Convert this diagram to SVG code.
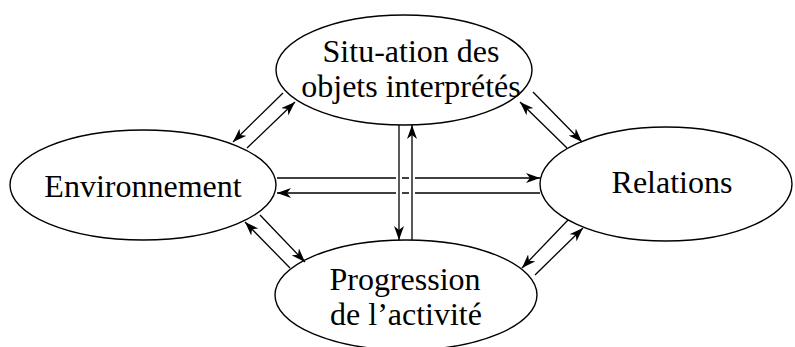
<svg xmlns="http://www.w3.org/2000/svg" width="795" height="347" viewBox="0 0 795 347">
  <style>
    ellipse.shape { fill: #fff; stroke: #000; stroke-width: 1.4; }
    text.label { font-family: "Liberation Serif", "Times New Roman", serif; font-size: 32px; fill: #000; text-anchor: middle; }
    .edge { stroke: #000; stroke-width: 1.3; fill: none; marker-end: url(#head); }
    .halo { stroke: #fff; stroke-width: 6; fill: none; }
  </style>
  <defs>
    <marker id="head" viewBox="0 0 14 10" refX="14" refY="5" markerWidth="14" markerHeight="10" markerUnits="userSpaceOnUse" orient="auto">
      <path d="M0,0 L14,5 L0,10 L4,5 z" fill="#000"/>
    </marker>
  </defs>
  <rect width="795" height="347" fill="#fff"/>

  <g id="node-situation">
    <ellipse class="shape" cx="404" cy="70" rx="128" ry="55"/>
    <text class="label" x="411" y="62">Situ-ation des</text>
    <text class="label" x="411" y="97">objets interprétés</text>
  </g>
  <g id="node-environnement">
    <ellipse class="shape" cx="143" cy="185" rx="133" ry="55"/>
    <text class="label" x="143" y="197">Environnement</text>
  </g>
  <g id="node-relations">
    <ellipse class="shape" cx="666" cy="184" rx="126" ry="57"/>
    <text class="label" x="672" y="193">Relations</text>
  </g>
  <g id="node-progression">
    <ellipse class="shape" cx="406" cy="295" rx="131" ry="55"/>
    <text class="label" x="405" y="290">Progression</text>
    <text class="label" x="406" y="325">de l’activité</text>
  </g>

  <g id="connectors">
    <!-- Environnement <-> Relations -->
    <line class="edge" x1="277" y1="178" x2="540" y2="178"/>
    <line class="edge" x1="540" y1="193" x2="277" y2="193"/>
    <!-- Situation <-> Progression, drawn over the horizontals with a white gap -->
    <line class="halo" x1="399" y1="170" x2="399" y2="200"/>
    <line class="halo" x1="412" y1="170" x2="412" y2="200"/>
    <line class="edge" x1="399" y1="125" x2="399" y2="240"/>
    <line class="edge" x1="412" y1="240" x2="412" y2="125"/>
    <!-- Situation <-> Environnement -->
    <line class="edge" x1="283" y1="93" x2="233" y2="142"/>
    <line class="edge" x1="247" y1="148" x2="295" y2="102"/>
    <!-- Situation <-> Relations -->
    <line class="edge" x1="533" y1="92" x2="582" y2="142"/>
    <line class="edge" x1="567" y1="148" x2="520" y2="102"/>
    <!-- Environnement <-> Progression -->
    <line class="edge" x1="260" y1="215" x2="305" y2="262"/>
    <line class="edge" x1="290" y1="268" x2="245" y2="222"/>
    <!-- Relations <-> Progression -->
    <line class="edge" x1="568" y1="220" x2="522" y2="268"/>
    <line class="edge" x1="535" y1="275" x2="583" y2="228"/>
  </g>
</svg>
